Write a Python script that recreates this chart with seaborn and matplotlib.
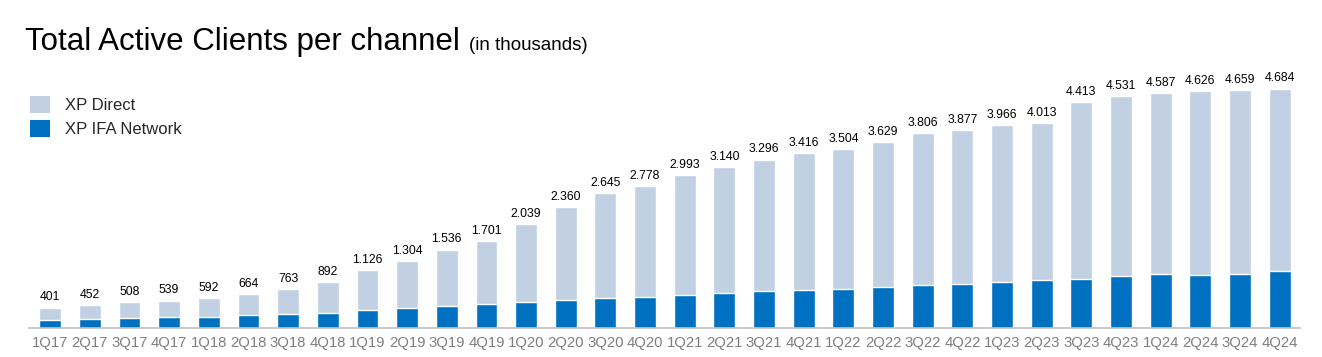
import matplotlib
matplotlib.use("Agg")
import matplotlib.pyplot as plt
import seaborn as sns
import pandas as pd
from matplotlib.patches import Patch

# -------- DATA --------
quarters = ["1Q17", "2Q17", "3Q17", "4Q17", "1Q18", "2Q18", "3Q18", "4Q18",
            "1Q19", "2Q19", "3Q19", "4Q19", "1Q20", "2Q20", "3Q20", "4Q20",
            "1Q21", "2Q21", "3Q21", "4Q21", "1Q22", "2Q22", "3Q22", "4Q22",
            "1Q23", "2Q23", "3Q23", "4Q23", "1Q24", "2Q24", "3Q24", "4Q24"]
total_clients = [401, 452, 508, 539, 592, 664, 763, 892,
                 1126, 1304, 1536, 1701, 2039, 2360, 2645, 2778,
                 2993, 3140, 3296, 3416, 3504, 3629, 3806, 3877,
                 3966, 4013, 4413, 4531, 4587, 4626, 4659, 4684]
# IFA network part, XP Direct = total - IFA
ifa_clients = [163, 182, 202, 221, 221, 260, 280, 300,
               358, 397, 436, 475, 514, 553, 592, 612,
               651, 690, 729, 748, 768, 807, 846, 866,
               905, 944, 963, 1022, 1061, 1041, 1061, 1120]

df = pd.DataFrame({"quarter": quarters, "total": total_clients, "ifa": ifa_clients})

light = "#C2D0E3"
dark = "#0070C0"

sns.set_style("white")
plt.rcParams["font.family"] = ["Liberation Sans", "DejaVu Sans"]

fig = plt.figure(figsize=(13.22, 3.57), dpi=100)
ax = fig.add_axes([0.022, 0.081, 0.961, 0.745])

# total bar (light) with IFA bar drawn on top -> stacked look
sns.barplot(data=df, x="quarter", y="total", color=light, width=0.55,
            saturation=1, ax=ax)
sns.barplot(data=df, x="quarter", y="ifa", color=dark, width=0.55,
            saturation=1, ax=ax)

# total labels above bars
for i, v in enumerate(df["total"]):
    label = f"{v:,}".replace(",", ".")
    ax.text(i, v + 80, label, ha="center", va="bottom", fontsize=8.8, color="black")

ax.set_xlim(-0.53, 31.5)
ax.set_ylim(0, 5200)
ax.set_xlabel("")
ax.set_ylabel("")
ax.set_yticks([])
for s in ["top", "right", "left"]:
    ax.spines[s].set_visible(False)
ax.spines["bottom"].set_color("#BFBFBF")
ax.spines["bottom"].set_linewidth(1.2)
ax.tick_params(axis="x", length=0, labelsize=10.7, labelcolor="#7F7F7F", pad=6)

# title in two sizes
t1 = fig.text(0.019, 0.86, "Total Active Clients per channel", fontsize=22.5,
              color="black", va="baseline")
fig.canvas.draw()
bb = t1.get_window_extent(fig.canvas.get_renderer())
x_end = bb.x1 / fig.bbox.width
fig.text(x_end + 0.007, 0.86, "(in thousands)", fontsize=13.5,
         color="black", va="baseline")

handles = [Patch(facecolor=light, edgecolor="none", label="XP Direct"),
           Patch(facecolor=dark, edgecolor="none", label="XP IFA Network")]
fig.legend(handles=handles, loc="upper left", bbox_to_anchor=(0.023, 0.732),
           frameon=False, fontsize=12, handlelength=1.2, handleheight=1.2,
           handletextpad=0.9, labelspacing=0.4, borderaxespad=0,
           borderpad=0)

fig.savefig("out.png", dpi=100)
